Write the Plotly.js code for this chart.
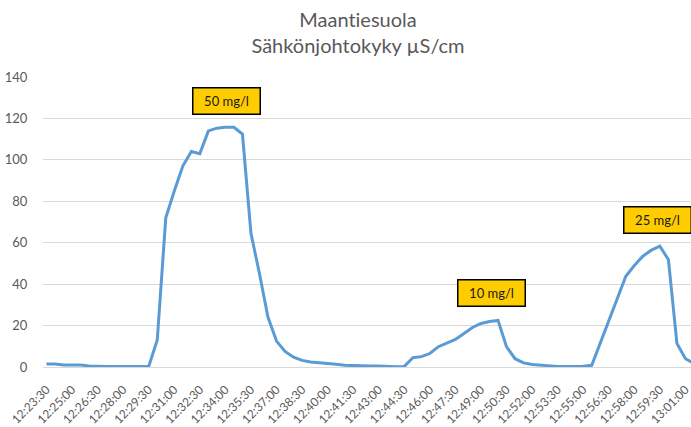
<!DOCTYPE html>
<html>
<head>
<meta charset="utf-8">
<script src="https://cdn.plot.ly/plotly-3.0.1.min.js"></script>
<style>html,body{margin:0;padding:0;background:#fff;}#chart{width:691px;height:427px;}svg text{font-variant-ligatures:none !important;font-feature-settings:"liga" 0 !important;}</style>
</head>
<body>
<div id="chart"></div>
<script>
const times = ["12:23:30","12:24:00","12:24:30","12:25:00","12:25:30","12:26:00","12:26:30","12:27:00","12:27:30","12:28:00","12:28:30","12:29:00","12:29:30","12:30:00","12:30:30","12:31:00","12:31:30","12:32:00","12:32:30","12:33:00","12:33:30","12:34:00","12:34:30","12:35:00","12:35:30","12:36:00","12:36:30","12:37:00","12:37:30","12:38:00","12:38:30","12:39:00","12:39:30","12:40:00","12:40:30","12:41:00","12:41:30","12:42:00","12:42:30","12:43:00","12:43:30","12:44:00","12:44:30","12:45:00","12:45:30","12:46:00","12:46:30","12:47:00","12:47:30","12:48:00","12:48:30","12:49:00","12:49:30","12:50:00","12:50:30","12:51:00","12:51:30","12:52:00","12:52:30","12:53:00","12:53:30","12:54:00","12:54:30","12:55:00","12:55:30","12:56:00","12:56:30","12:57:00","12:57:30","12:58:00","12:58:30","12:59:00","12:59:30","13:00:00","13:00:30","13:01:00","13:01:30"];

const conductivity = [1.5,1.5,1.0,1.0,1.0,0.5,0.3,0.3,0.3,0.3,0.3,0.3,0.3,13,72,85,97,104,103,114,115.3,115.7,115.7,112.5,64.5,45,24,12.5,7.5,4.7,3.2,2.4,2.1,1.9,1.3,0.8,0.6,0.5,0.5,0.5,0.3,0.1,0.3,4.5,5,6.5,9.8,11.5,13.3,16.2,19.1,21,22,22.5,9.7,4,2,1.2,0.8,0.5,0.3,0.3,0.3,0.4,0.8,11.7,22.5,33.7,43.8,49,53.5,56.4,58.3,51.8,11.3,4,1.8];

const tickLabels = ["12:23:30","12:25:00","12:26:30","12:28:00","12:29:30","12:31:00","12:32:30","12:34:00","12:35:30","12:37:00","12:38:30","12:40:00","12:41:30","12:43:00","12:44:30","12:46:00","12:47:30","12:49:00","12:50:30","12:52:00","12:53:30","12:55:00","12:56:30","12:58:00","12:59:30","13:01:00"];

const labelTexts = ["50 mg/l","10 mg/l","25 mg/l"];

const FONT = "Lato, 'Open Sans', sans-serif";
const GREY = "#595959";

const trace = {
  type: "scatter",
  mode: "lines",
  x: times,
  y: conductivity,
  line: {color: "#5B9BD5", width: 3},
  hoverinfo: "x+y"
};

function box(text, x, y) {
  return {
    text: text, x: x, y: y, xref: "x", yref: "y",
    showarrow: false,
    font: {family: FONT, size: 13, color: "#1a1a1a"},
    bgcolor: "#FFCC00",
    bordercolor: "#000000",
    borderwidth: 1.5,
    borderpad: 4,
    width: 58, height: 17
  };
}

const layout = {
  width: 691, height: 427,
  margin: {l: 43, r: 0, t: 77, b: 60},
  paper_bgcolor: "#ffffff",
  plot_bgcolor: "#ffffff",
  showlegend: false,
  font: {family: FONT, color: GREY},
  title: {
    text: "Maantiesuola<br>Sähkönjohtokyky µS/cm",
    font: {family: FONT, size: 20, color: GREY},
    xref: "container", x: 358/691, xanchor: "center",
    yref: "container", y: 1 - 27/427, yanchor: "top"
  },
  xaxis: {
    type: "category",
    range: [-0.41, 75.65],
    tickmode: "array",
    tickvals: tickLabels,
    ticktext: tickLabels,
    tickangle: -45,
    tickfont: {family: FONT, size: 12, color: GREY},
    ticks: "outside", ticklen: 10, tickcolor: "rgba(0,0,0,0)",
    showgrid: false,
    showline: true, linecolor: "#D9D9D9", linewidth: 1,
    zeroline: false
  },
  yaxis: {
    range: [0, 140],
    dtick: 20,
    tick0: 0,
    tickfont: {family: FONT, size: 13, color: GREY},
    ticks: "outside", ticklen: 12, tickcolor: "rgba(0,0,0,0)",
    showgrid: true, gridcolor: "#D9D9D9", gridwidth: 1,
    zeroline: false, showline: false
  },
  annotations: [
    box(labelTexts[0], 21.07, 128.3),
    box(labelTexts[1], 52.2, 35.5),
    box(labelTexts[2], 71.7, 70.8)
  ]
};

Plotly.newPlot("chart", [trace], layout, {displayModeBar: false, staticPlot: true});
</script>
</body>
</html>
